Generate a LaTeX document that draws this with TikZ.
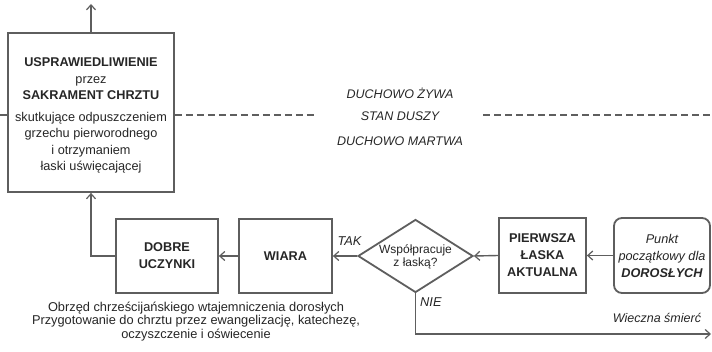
\documentclass[tikz,border=0pt]{standalone}
\usepackage{fontspec}
\setmainfont{Liberation Sans}
\usetikzlibrary{arrows.meta,shapes.geometric}
\definecolor{ln}{HTML}{5E5E5E}
\definecolor{tx}{HTML}{262626}
\begin{document}
\begin{tikzpicture}[x=1pt,y=-1pt,
  box/.style={draw=ln,line width=1.8pt,inner sep=0pt,align=center,text=tx,font=\fontsize{12.7}{17}\selectfont\bfseries},
  arr/.style={draw=ln,line width=1.4pt,-{Straight Barb[length=5pt,width=9pt,line width=1.2pt]}},
  dashline/.style={draw=ln,line width=1.4pt,dash pattern=on 7pt off 4pt},
  lab/.style={text=tx,inner sep=0pt,font=\fontsize{12.8}{13.5}\selectfont}]
\useasboundingbox[fill=white] (0,0) rectangle (712,352);
% top box
\node[box,minimum width=166pt,minimum height=159pt] (top) at (91,112.5) {};
\node[lab,align=center,font=\fontsize{12.7}{16.5}\selectfont] (toptext) at (91,115.5)
 {\textbf{USPRAWIEDLIWIENIE}\\przez\\\textbf{SAKRAMENT CHRZTU}\\[5pt]skutkujące odpuszczeniem\\grzechu pierworodnego\\i otrzymaniem\\łaski uświęcającej};
\coordinate (topend) at (91,4);
% bottom row
\node[box,minimum width=102pt,minimum height=74pt] (dobre) at (167,256) {DOBRE\\UCZYNKI};
\node[box,minimum width=93pt,minimum height=74pt] (wiara) at (285.5,256) {WIARA};
\node[box,shape=diamond,minimum width=115pt,minimum height=73pt] (dec) at (415.5,256) {};
\node[lab,align=center,font=\fontsize{12}{13}\selectfont] (dectext) at (415.5,257) {Współpracuje\\z łaską?};
\node[box,minimum width=87pt,minimum height=75pt] (pier) at (542.5,255.5) {PIERWSZA\\ŁASKA\\AKTUALNA};
\node[box,rounded corners=8pt,minimum width=96pt,minimum height=75pt,font=\fontsize{12.7}{17}\selectfont] (punkt) at (662,255.5) {\itshape Punkt\\\itshape początkowy dla\\\itshape\bfseries DOROSŁYCH};
\coordinate (death) at (711,334);
% connectors
\draw[arr] (top.north) -- (topend);
\draw[arr] (punkt.west) -- (pier.east);
\draw[arr] (pier.west) -- (dec.east);
\draw[arr] (dec.west) -- (wiara.east);
\draw[arr] (wiara.west) -- (dobre.east);
\draw[arr] (dobre.west) -| (top.south);
\draw[arr] (dec.south) |- (death);
% labels
\node[lab,font=\fontsize{12.8}{13.5}\selectfont\itshape] (tak) at (349.5,241) {TAK};
\node[lab,font=\fontsize{12.8}{13.5}\selectfont\itshape,anchor=west] (nie) at (420,302) {NIE};
\node[lab,font=\fontsize{12.5}{13.5}\selectfont\itshape] (smierc) at (657,318) {Wieczna śmierć};
% state
\node[lab,font=\fontsize{12.5}{13.5}\selectfont\itshape] (alive) at (400,93) {DUCHOWO ŻYWA};
\node[lab,font=\fontsize{12.5}{13.5}\selectfont\itshape] (state) at (400,116) {STAN DUSZY};
\node[lab,font=\fontsize{12.5}{13.5}\selectfont\itshape] (dead) at (400,141) {DUCHOWO MARTWA};
\coordinate (d0) at (0,115);
\coordinate (d1) at (315,115);
\coordinate (d2) at (483,115);
\coordinate (d3) at (712,115);
\draw[dashline] (d0) -- (top.west |- d0);
\draw[dashline] (top.east |- d0) -- (d1);
\draw[dashline] (d2) -- (d3);
% bottom text
\node[lab,align=center] (rite) at (196,321.5) {Obrzęd chrześcijańskiego wtajemniczenia dorosłych\\Przygotowanie do chrztu przez ewangelizację, katechezę,\\oczyszczenie i oświecenie};
\end{tikzpicture}
\end{document}
